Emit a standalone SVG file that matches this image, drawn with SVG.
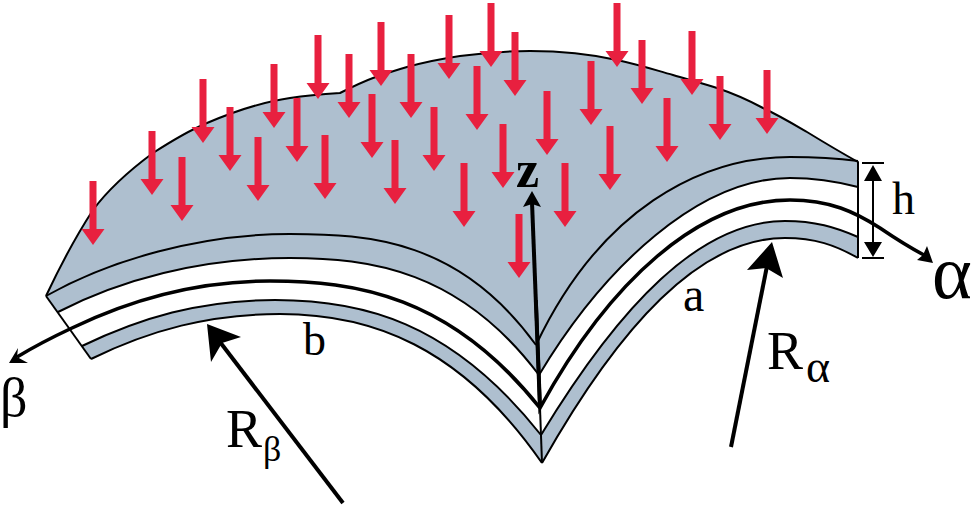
<svg xmlns="http://www.w3.org/2000/svg" width="975" height="507" viewBox="0 0 975 507">
<style>
.ln{fill:none;stroke:#000;stroke-width:2}
.th{fill:none;stroke:#000;stroke-width:3.6}
.ar{fill:none;stroke:#000;stroke-width:4}
.t{font-family:"Liberation Serif","DejaVu Serif",serif;fill:#000}
</style>
<defs>
<path id="d" d="M-3.5 0H3.5V48H11.5L0 64L-11.5 48H-3.5Z" fill="#e8203f"/>
</defs>
<g id="shell">
<path d="M46 296C62 262 78 233 93 210C110 187 130 170 153 153C170 142 188 131 207 123C235 111 262 102 290 98C310 95 325 94 340 93C352 87 362 82 373 78C390 72 400 69 407 67C425 62 440 59 460 56C490 52 510 51 530 51C560 51 590 54 617 60C640 65 655 70 673 75C690 80 705 84 717 88C735 94 750 101 763 108C780 116 795 125 807 132C825 143 840 152 858 162V258C835 245 815 238 785 238C700 238 620 325 542 463C460 345 370 314 280 314C210 314 150 330 91 359Z" fill="#aebfcf"/>
<path d="M58 312C120 280 200 258 290 258C370 258 460 270 539 375C605 265 700 178 790 178C815 178 835 181 858 187V237C835 227 815 221 785 221C700 221 620 305 541 435C450 320 360 300 275 300C200 300 140 318 82 346Z" fill="#fff"/>
<path class="ln" d="M46 296C62 262 78 233 93 210C110 187 130 170 153 153C170 142 188 131 207 123C235 111 262 102 290 98C310 95 325 94 340 93C352 87 362 82 373 78C390 72 400 69 407 67C425 62 440 59 460 56C490 52 510 51 530 51C560 51 590 54 617 60C640 65 655 70 673 75C690 80 705 84 717 88C735 94 750 101 763 108C780 116 795 125 807 132C825 143 840 152 858 162V258"/>
<path class="ln" d="M46 296L91 359"/>
<path class="ln" d="M46 296C110 260 200 234 290 234C370 234 460 240 536 345"/>
<path class="ln" d="M58 312C120 280 200 258 290 258C370 258 460 270 539 375"/>
<path class="ln" d="M82 346C140 318 200 300 275 300C360 300 450 320 541 435"/>
<path class="ln" d="M91 359C150 330 210 314 280 314C370 314 460 345 542 463"/>
<path class="ln" d="M858 161C835 158 815 157 790 157C700 157 600 210 536 345"/>
<path class="ln" d="M858 187C835 181 815 178 790 178C700 178 605 265 539 375"/>
<path class="ln" d="M858 237C835 227 815 221 785 221C700 221 620 305 541 435"/>
<path class="ln" d="M858 258C835 245 815 238 785 238C700 238 620 325 542 463"/>
</g>
<g id="loads">
<use href="#d" x="93" y="181"/><use href="#d" x="152" y="131"/><use href="#d" x="182" y="157"/><use href="#d" x="203" y="79"/><use href="#d" x="230" y="107"/><use href="#d" x="258" y="137"/><use href="#d" x="274" y="64"/><use href="#d" x="297" y="98"/><use href="#d" x="318" y="35"/><use href="#d" x="325" y="135"/><use href="#d" x="349" y="54"/><use href="#d" x="372" y="94"/><use href="#d" x="381" y="22"/><use href="#d" x="395" y="140"/><use href="#d" x="411" y="54"/><use href="#d" x="434" y="107"/><use href="#d" x="449" y="15"/><use href="#d" x="464" y="163"/><use href="#d" x="477" y="66"/><use href="#d" x="491" y="3"/><use href="#d" x="503" y="124"/><use href="#d" x="515" y="32"/><use href="#d" x="519" y="214"/><use href="#d" x="547" y="91"/><use href="#d" x="565" y="163"/><use href="#d" x="591" y="61"/><use href="#d" x="610" y="126"/><use href="#d" x="617" y="3"/><use href="#d" x="642" y="40"/><use href="#d" x="667" y="98"/><use href="#d" x="692" y="31"/><use href="#d" x="720" y="76"/><use href="#d" x="767" y="70"/>
</g>
<g id="connectors">
<path class="th" d="M540 408C450 295 355 281 270 281C195 281 130 300 72 328Q40 343 17 357"/>
<path d="M9 363L18 348L17 357L28 363Z" fill="#000"/>
<path class="th" d="M536 300L540 408C610 280 700 200 790 200C830 200 855 212 880 228Q905 245 924 255"/>
<path d="M933 263L917 260L923 255L927 246Z" fill="#000"/>
<path class="ln" d="M540 408L542 463"/>
<path class="ar" d="M540 408L532 202"/>
<path d="M532 191L541 207L532 204L523 207Z" fill="#000"/>
<path class="ar" d="M343 503L220 342"/>
<path d="M207 324L241 337L222 343L211 362Z" fill="#000"/>
<path class="ar" d="M731 447L767 266"/>
<path d="M772 242L783 278L766 268L747 270Z" fill="#000"/>
<path class="ln" d="M862 163H884M862 258H884M873 175V248"/>
<path d="M873 165L882 181H864ZM873 257L882 242H864Z" fill="#000"/>
</g>
<g id="labels">
<text class="t" x="516" y="187" font-size="52" font-weight="bold">z</text>
<text class="t" x="892" y="214" font-size="46">h</text>
<text class="t" x="683" y="311" font-size="48">a</text>
<text class="t" x="303" y="355" font-size="46">b</text>
<text class="t" x="932" y="298" font-size="76">α</text>
<text class="t" x="0" y="416" font-size="54">β</text>
<text class="t" x="226" y="447" font-size="54">R</text>
<text class="t" x="263" y="461" font-size="36">β</text>
<text class="t" x="806" y="382" font-size="46">α</text>
<text class="t" x="767" y="369" font-size="54">R</text>
</g>
</svg>
